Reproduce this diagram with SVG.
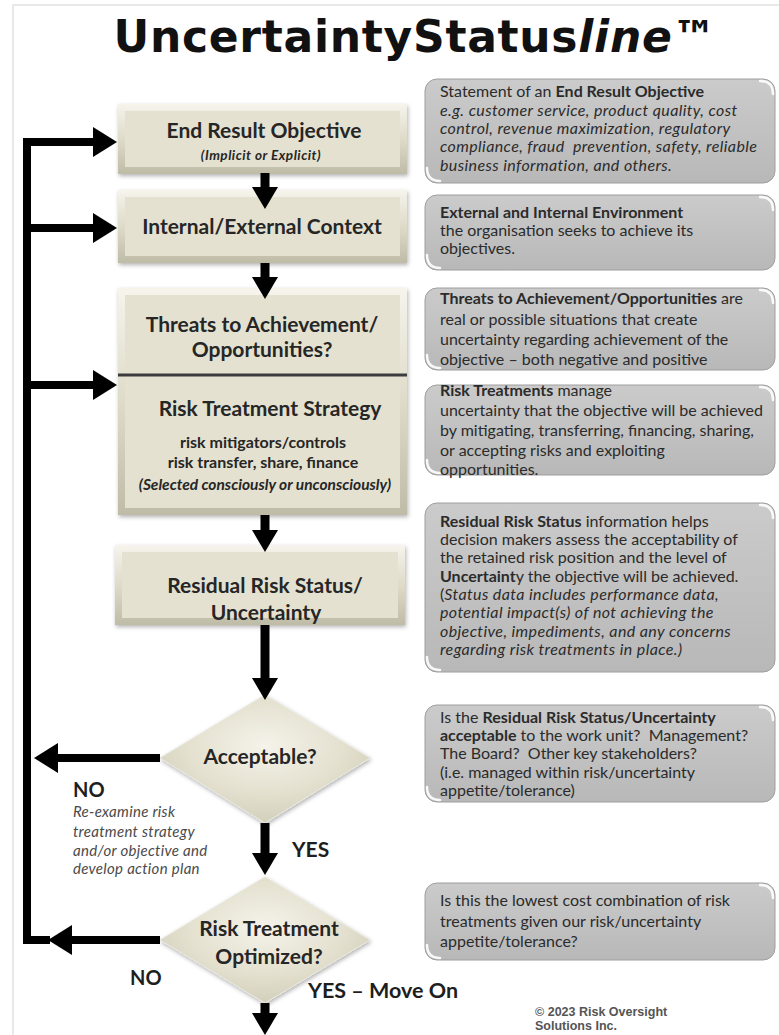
<svg xmlns="http://www.w3.org/2000/svg" width="779" height="1035" viewBox="0 0 779 1035">
<style>
.frame{fill:none;stroke:#e2e2e2;stroke-width:1.5}
.title{font-family:"DejaVu Sans",sans-serif;font-weight:700;font-size:44px;fill:#111;text-anchor:middle}
.bo{fill:url(#bev)}
.bi{fill:#e4e1d0}
.hd{font-family:Lato,"Open Sans",sans-serif;font-weight:700;fill:#262626;text-anchor:middle}
.nt{fill:url(#gray);stroke:#9e9e9e;stroke-width:1}
.gl{fill:none;stroke:#fff;stroke-width:2.5;stroke-linecap:round;opacity:.9}
.tx{font-family:Lato,"Open Sans",sans-serif;font-size:16px;fill:#2b2b2b}
.b{font-weight:700}
.i{font-style:italic;letter-spacing:.4px}
.dm{fill:url(#dg);stroke:#e9e7dc;stroke-width:1}
.cv{fill:none;stroke:#000;stroke-width:9}
.ch{fill:none;stroke:#000;stroke-width:8;stroke-linejoin:miter}
.lb{font-family:Lato,"Open Sans",sans-serif;font-weight:700;fill:#1e1e1e}
.gi{font-family:Lato,"Open Sans",sans-serif;font-style:italic;font-size:15px;letter-spacing:.3px;fill:#4a4a4a}
.cp{font-family:"Liberation Sans",Arial,sans-serif;font-weight:700;font-size:12.5px;fill:#555}
</style>
<defs>
<linearGradient id="bev" x1="0" y1="0" x2="0" y2="1">
<stop offset="0" stop-color="#f6f4ec"/><stop offset="0.5" stop-color="#dedbc9"/><stop offset="1" stop-color="#bebba7"/>
</linearGradient>
<linearGradient id="gray" x1="0" y1="0" x2="0" y2="1">
<stop offset="0" stop-color="#cbcbcb"/><stop offset="1" stop-color="#b8b8b8"/>
</linearGradient>
<radialGradient id="dg" cx="50%" cy="40%" r="60%">
<stop offset="0" stop-color="#f5f3ea"/><stop offset="0.6" stop-color="#e4e1d0"/><stop offset="1" stop-color="#d2cfbb"/>
</radialGradient>
<filter id="sh" x="-10%" y="-10%" width="125%" height="130%">
<feDropShadow dx="1" dy="2" stdDeviation="2" flood-color="#000" flood-opacity="0.3"/>
</filter>
<marker id="av" markerUnits="userSpaceOnUse" viewBox="0 0 22 26" markerWidth="22" markerHeight="26" refX="0" refY="13" orient="auto">
<path d="M0,0 L22,13 L0,26 z" fill="#000"/>
</marker>
<marker id="ah" markerUnits="userSpaceOnUse" viewBox="0 0 24 30" markerWidth="24" markerHeight="30" refX="0" refY="15" orient="auto">
<path d="M0,0 L24,15 L0,30 z" fill="#000"/>
</marker>
</defs>

<rect width="779" height="1035" fill="#fff"/>
<path class="frame" d="M13,1035 V5 H779"/>

<text class="title" x="415" y="52" textLength="603" lengthAdjust="spacing">UncertaintyStatus<tspan font-style="italic">line</tspan>™</text>

<!-- left process nodes -->
<g id="n-end-result">
<rect class="bo" x="118" y="104" width="289" height="70" filter="url(#sh)"/>
<rect class="bi" x="125" y="111" width="275" height="56"/>
<text class="hd" x="264" y="138" font-size="21">End Result Objective</text>
<text class="hd" x="261" y="160" font-size="13.5" font-style="italic" letter-spacing=".5">(Implicit or Explicit)</text>
</g>
<g id="n-context">
<rect class="bo" x="118" y="190" width="289" height="73" filter="url(#sh)"/>
<rect class="bi" x="125" y="197" width="275" height="59"/>
<text class="hd" x="262" y="234" font-size="21">Internal/External Context</text>
</g>
<g id="n-threats-treatment">
<rect class="bo" x="118" y="288" width="289" height="227" filter="url(#sh)"/>
<rect class="bi" x="125" y="295" width="275" height="213"/>
<line x1="118" y1="375" x2="407" y2="375" stroke="#3c3c3c" stroke-width="3"/>
<text class="hd" x="262" y="332" font-size="21">Threats to Achievement/</text>
<text class="hd" x="262" y="357" font-size="21">Opportunities?</text>
<text class="hd" x="270" y="416" font-size="21">Risk Treatment Strategy</text>
<text class="hd" x="263" y="448" font-size="16">risk mitigators/controls</text>
<text class="hd" x="263" y="468" font-size="16">risk transfer, share, finance</text>
<text class="hd" x="265" y="490" font-size="15.5" font-style="italic">(Selected consciously or unconsciously)</text>
</g>
<g id="n-residual">
<rect class="bo" x="115" y="545" width="290" height="80" filter="url(#sh)"/>
<rect class="bi" x="122" y="552" width="276" height="66"/>
<text class="hd" x="265" y="593" font-size="21">Residual Risk Status/</text>
<text class="hd" x="266" y="620" font-size="21">Uncertainty</text>
</g>
<g id="n-acceptable">
<polygon class="dm" points="265,695 370,758 265,823 160,758" filter="url(#sh)"/>
<text class="hd" x="260" y="764" font-size="21">Acceptable?</text>
</g>
<g id="n-optimized">
<polygon class="dm" points="265,877 370,940 265,1003 160,940" filter="url(#sh)"/>
<text class="hd" x="269" y="936" font-size="21">Risk Treatment</text>
<text class="hd" x="269" y="964" font-size="21">Optimized?</text>
</g>

<!-- connectors -->
<g id="connectors">
<path class="cv" d="M265,173 V187" marker-end="url(#av)"/>
<path class="cv" d="M265,263 V277" marker-end="url(#av)"/>
<path class="cv" d="M265,515 V530" marker-end="url(#av)"/>
<path class="cv" d="M265,625 V678" marker-end="url(#av)"/>
<path class="cv" d="M265,823 V853" marker-end="url(#av)"/>
<path class="cv" d="M265,1003 V1013" marker-end="url(#av)"/>
<path class="ch" d="M160,758 H58" marker-end="url(#ah)"/>
<path class="ch" d="M160,940 H72" marker-end="url(#ah)"/>
<path class="ch" d="M50,940 H27 V142 H93" marker-end="url(#ah)"/>
<path class="ch" d="M27,228 H93" marker-end="url(#ah)"/>
<path class="ch" d="M27,385 H93" marker-end="url(#ah)"/>
</g>

<!-- connector labels -->
<g id="labels">
<text class="lb" x="73" y="797" font-size="20">NO</text>
<text class="gi" x="73" y="817">Re-examine risk</text>
<text class="gi" x="73" y="837">treatment strategy</text>
<text class="gi" x="73" y="856">and/or objective and</text>
<text class="gi" x="73" y="874">develop action plan</text>
<text class="lb" x="292" y="857" font-size="21">YES</text>
<text class="lb" x="130" y="985" font-size="20">NO</text>
<text class="lb" x="308" y="998" font-size="21.5">YES – Move On</text>
</g>

<!-- right notes -->
<g id="note-objective">
<rect class="nt" x="425" y="79" width="350" height="104" rx="12"/>
<path class="gl" d="M760,81 Q773,81 773,94"/><path class="gl" d="M427,168 Q427,181 440,181"/>
<text class="tx" x="440" y="97">Statement of an <tspan class="b">End Result Objective</tspan></text>
<text class="tx i" x="440" y="116">e.g. customer service, product quality, cost</text>
<text class="tx i" x="440" y="134">control, revenue maximization, regulatory</text>
<text class="tx i" x="440" y="152">compliance, fraud&#160; prevention, safety, reliable</text>
<text class="tx i" x="440" y="171">business information, and others.</text>
</g>
<g id="note-context">
<rect class="nt" x="425" y="195" width="350" height="75" rx="12"/>
<path class="gl" d="M760,197 Q773,197 773,210"/><path class="gl" d="M427,255 Q427,268 440,268"/>
<text class="tx" x="440" y="218"><tspan class="b">External and Internal Environment</tspan></text>
<text class="tx" x="440" y="236">the organisation seeks to achieve its</text>
<text class="tx" x="440" y="254">objectives.</text>
</g>
<g id="note-threats">
<rect class="nt" x="425" y="288" width="350" height="82" rx="12"/>
<path class="gl" d="M760,290 Q773,290 773,303"/><path class="gl" d="M427,355 Q427,368 440,368"/>
<text class="tx" x="440" y="304"><tspan class="b">Threats to Achievement/Opportunities</tspan> are</text>
<text class="tx" x="440" y="325">real or possible situations that create</text>
<text class="tx" x="440" y="345">uncertainty regarding achievement of the</text>
<text class="tx" x="440" y="365">objective – both negative and positive</text>
</g>
<g id="note-treatments">
<rect class="nt" x="425" y="385" width="350" height="90" rx="12"/>
<path class="gl" d="M760,387 Q773,387 773,400"/><path class="gl" d="M427,460 Q427,473 440,473"/>
<text class="tx" x="440" y="396"><tspan class="b">Risk Treatments</tspan> manage</text>
<text class="tx" x="440" y="416">uncertainty that the objective will be achieved</text>
<text class="tx" x="440" y="436">by mitigating, transferring, financing, sharing,</text>
<text class="tx" x="440" y="456">or accepting risks and exploiting</text>
<text class="tx" x="440" y="475">opportunities.</text>
</g>
<g id="note-residual">
<rect class="nt" x="425" y="503" width="350" height="169" rx="12"/>
<path class="gl" d="M760,505 Q773,505 773,518"/><path class="gl" d="M427,657 Q427,670 440,670"/>
<text class="tx" x="440" y="527"><tspan class="b">Residual Risk Status</tspan> information helps</text>
<text class="tx" x="440" y="545">decision makers assess the acceptability of</text>
<text class="tx" x="440" y="563">the retained risk position and the level of</text>
<text class="tx" x="440" y="582"><tspan class="b">Uncertaint</tspan>y the objective will be achieved.</text>
<text class="tx" x="440" y="600">(<tspan class="i">Status data includes performance data,</tspan></text>
<text class="tx i" x="440" y="618">potential impact(s) of not achieving the</text>
<text class="tx i" x="440" y="637">objective, impediments, and any concerns</text>
<text class="tx i" x="440" y="655">regarding risk treatments in place.)</text>
</g>
<g id="note-acceptable">
<rect class="nt" x="425" y="705" width="350" height="97" rx="12"/>
<path class="gl" d="M760,707 Q773,707 773,720"/><path class="gl" d="M427,787 Q427,800 440,800"/>
<text class="tx" x="440" y="723">Is the <tspan class="b">Residual Risk Status/Uncertainty</tspan></text>
<text class="tx" x="440" y="741"><tspan class="b">acceptable</tspan> to the work unit?&#160; Management?</text>
<text class="tx" x="440" y="759">The Board?&#160; Other key stakeholders?</text>
<text class="tx" x="440" y="778">(i.e. managed within risk/uncertainty</text>
<text class="tx" x="440" y="796">appetite/tolerance)</text>
</g>
<g id="note-optimized">
<rect class="nt" x="425" y="883" width="350" height="77" rx="12"/>
<path class="gl" d="M760,885 Q773,885 773,898"/><path class="gl" d="M427,945 Q427,958 440,958"/>
<text class="tx" x="440" y="906">Is this the lowest cost combination of risk</text>
<text class="tx" x="440" y="927">treatments given our risk/uncertainty</text>
<text class="tx" x="440" y="947">appetite/tolerance?</text>
</g>

<g id="copyright">
<text class="cp" x="535" y="1016">© 2023 Risk Oversight</text>
<text class="cp" x="535" y="1030">Solutions Inc.</text>
</g>
</svg>
